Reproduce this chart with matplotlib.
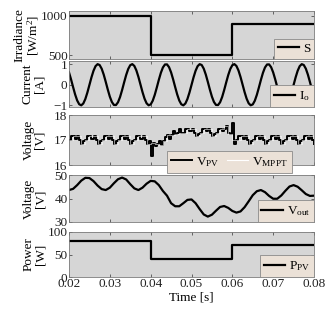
import numpy as np
import matplotlib
matplotlib.use("Agg")
import matplotlib.pyplot as plt

plt.rcParams['font.family'] = ['Liberation Serif', 'DejaVu Serif']
plt.rcParams['mathtext.fontset'] = 'custom'
plt.rcParams['mathtext.rm'] = 'Liberation Serif'
plt.rcParams['mathtext.it'] = 'Liberation Serif'

# ---------------- data ----------------
step_time = [0.02, 0.04, 0.06, 0.08]
irradiance = [1000, 500, 900, 900]
power_pv = [80, 40, 72, 72]

# 0.5 ms samples from 0.020 s to 0.080 s
io_current = [
    0.598, 0.260, -0.113, -0.471, -0.763, -0.947, -0.999, -0.910, -0.693, -0.379,
    -0.012, 0.357, 0.676, 0.900, 0.997, 0.955, 0.778, 0.492, 0.137, -0.237,
    -0.578, -0.838, -0.980, -0.985, -0.851, -0.598, -0.260, 0.113, 0.471, 0.763,
    0.947, 0.999, 0.910, 0.693, 0.379, 0.012, -0.357, -0.676, -0.900, -0.997,
    -0.955, -0.778, -0.492, -0.137, 0.237, 0.578, 0.838, 0.980, 0.985, 0.851,
    0.598, 0.260, -0.113, -0.471, -0.763, -0.947, -0.999, -0.910, -0.693, -0.379,
    -0.012, 0.357, 0.676, 0.900, 0.997, 0.955, 0.778, 0.492, 0.137, -0.237,
    -0.578, -0.838, -0.980, -0.985, -0.851, -0.598, -0.260, 0.113, 0.471, 0.763,
    0.947, 0.999, 0.910, 0.693, 0.379, 0.012, -0.357, -0.676, -0.900, -0.997,
    -0.955, -0.778, -0.492, -0.137, 0.237, 0.578, 0.838, 0.980, 0.985, 0.851,
    0.598, 0.260, -0.113, -0.471, -0.763, -0.947, -0.999, -0.910, -0.693, -0.379,
    -0.012, 0.357, 0.676, 0.900, 0.997, 0.955, 0.778, 0.492, 0.137, -0.237,
    -0.578,
]

# 0.5 ms samples (step signal)
v_pv = [
    17.00, 17.15, 17.15, 17.05, 17.15, 17.00, 16.85, 16.95,
    17.00, 17.15, 17.15, 17.05, 17.15, 17.00, 16.85, 16.95,
    17.00, 17.15, 17.15, 17.05, 17.15, 17.00, 16.85, 16.95,
    17.00, 17.15, 17.15, 17.05, 17.15, 17.00, 16.85, 16.95,
    17.00, 17.15, 17.15, 17.05, 17.15, 17.00, 16.85, 16.95,
    16.35, 16.90, 16.75, 16.85, 16.95, 16.80, 16.95, 17.10,
    17.20, 17.05, 17.20, 17.35, 17.25, 17.30, 17.45, 17.30,
    17.30, 17.45, 17.45, 17.35, 17.45, 17.30, 17.15, 17.25,
    17.30, 17.45, 17.45, 17.35, 17.45, 17.30, 17.15, 17.25,
    17.30, 17.45, 17.45, 17.35, 17.45, 17.55, 17.30, 17.25,
    17.70, 16.85,
    17.00, 17.15, 17.15, 17.05, 17.15, 17.00, 16.85, 16.95,
    17.00, 17.15, 17.15, 17.05, 17.15, 17.00, 16.85, 16.95,
    17.00, 17.15, 17.15, 17.05, 17.15, 17.00, 16.85, 16.95,
    17.00, 17.15, 17.15, 17.05, 17.15, 17.00, 16.85, 16.95,
    17.00, 17.15, 17.15, 17.05, 17.15, 17.00, 16.85,
]

# 1 ms samples (step signal)
v_mppt = [
    17.00, 17.15, 17.15, 16.85, 17.00, 17.15, 17.15, 16.85, 17.00, 17.15,
    17.15, 16.85, 17.00, 17.15, 17.15, 16.85, 17.00, 17.15, 17.15, 16.85,
    16.90, 16.85, 16.80, 16.95, 17.20, 17.20, 17.25, 17.30, 17.30, 17.45,
    17.45, 17.15, 17.30, 17.45, 17.45, 17.15, 17.30, 17.45, 17.55, 17.25,
    17.00, 17.00, 17.15, 17.15, 16.85, 17.00, 17.15, 17.15, 16.85, 17.00,
    17.15, 17.15, 16.85, 17.00, 17.15, 17.15, 16.85, 17.00, 17.15, 17.15,
    16.85,
]

# 1 ms samples
v_out = [
    43.6, 44.1, 45.7, 47.6, 48.8, 48.7, 47.4, 45.5, 44.0, 43.6,
    44.6, 46.5, 48.2, 48.9, 48.1, 46.1, 44.3, 43.6, 44.6, 46.3,
    47.5, 47.3, 45.7, 43.2, 41.2, 38.0, 36.7, 36.7, 38.0, 39.4,
    39.6, 38.0, 35.5, 33.2, 32.3, 33.1, 34.8, 36.4, 36.8, 36.0,
    34.7, 34.0, 34.5, 36.3, 38.8, 41.4, 43.1, 43.6, 42.7, 41.1,
    39.9, 39.9, 41.3, 43.3, 45.1, 45.7, 45.0, 43.5, 41.9, 41.1,
    41.2,
]

x_ticks = [0.02, 0.03, 0.04, 0.05, 0.06, 0.07, 0.08]

# ---------------- figure ----------------
fig = plt.figure(figsize=(3.3, 3.13), dpi=100)
FACE = '#d6d6d6'
LEGFACE = '#ebe1d7'
FS = 9.5

left, width = 69 / 330, (314 - 69) / 330
panels_px = [(11, 59), (61, 107), (115, 165), (175, 222), (232, 277)]
axes = []
for top, bot in panels_px:
    ax = fig.add_axes([left, (313 - bot) / 313, width, (bot - top) / 313])
    ax.set_facecolor(FACE)
    ax.set_xlim(0.02, 0.08)
    ax.set_xticks(x_ticks)
    ax.tick_params(direction='in', top=True, right=True, length=2,
                   width=0.5, labelsize=FS, pad=1, colors='#333333',
                   labelcolor='#222222')
    for s in ax.spines.values():
        s.set_color('#7a7a7a')
        s.set_linewidth(0.6)
    axes.append(ax)

t_half = np.linspace(0.02, 0.08, len(io_current))
t_vpv = np.linspace(0.02, 0.08, len(v_pv))
t_ms = np.linspace(0.02, 0.08, len(v_out))
t_mppt = np.linspace(0.02, 0.08, len(v_mppt))


def legend(ax, **kw):
    leg = ax.legend(fontsize=FS, frameon=True, fancybox=False,
                    handlelength=1.6, handletextpad=0.3, borderpad=0.3,
                    borderaxespad=0.0, labelspacing=0.2, **kw)
    fr = leg.get_frame()
    fr.set_facecolor(LEGFACE)
    fr.set_edgecolor('#8a8a8a')
    fr.set_linewidth(0.6)
    fr.set_alpha(1)
    return leg


# Panel 1: irradiance
ax = axes[0]
ax.plot(step_time, irradiance, drawstyle='steps-post', color='black', lw=1.6,
        label='S')
ax.set_ylim(450, 1060)
ax.set_yticks([500, 1000])
ax.set_ylabel('Irradiance\n[W/m$^2$]', fontsize=FS, labelpad=0, linespacing=0.95)
legend(ax, loc='lower right')

# Panel 2: current
ax = axes[1]
ax.plot(t_half, io_current, color='black', lw=1.6, label='I$_{\\mathrm{o}}$')
ax.set_ylim(-1.08, 1.15)
ax.set_yticks([-1, 0, 1])
ax.set_ylabel('Current\n[A]', fontsize=FS, labelpad=6, linespacing=0.95)
legend(ax, loc='lower right')

# Panel 3: PV voltage
ax = axes[2]
ax.plot(t_vpv, v_pv, drawstyle='steps-post', color='black', lw=1.4,
        label='V$_{\\mathrm{PV}}$')
ax.plot(t_mppt, v_mppt, drawstyle='steps-post', color='white', lw=0.4,
        label='V$_{\\mathrm{MPPT}}$')
ax.set_ylim(16, 18)
ax.set_yticks([16, 17, 18])
ax.set_ylabel('Voltage\n[V]', fontsize=FS, labelpad=6, linespacing=0.95)
leg = legend(ax, loc='lower left', bbox_to_anchor=(0.4, -0.15), ncol=2,
             columnspacing=0.6)
leg.get_lines()[1].set_linewidth(0.8)

# Panel 4: output voltage
ax = axes[3]
ax.plot(t_ms, v_out, color='black', lw=1.6, label='V$_{\\mathrm{out}}$')
ax.set_ylim(30, 50)
ax.set_yticks([30, 40, 50])
ax.set_ylabel('Voltage\n[V]', fontsize=FS, labelpad=6, linespacing=0.95)
legend(ax, loc='lower right')

# Panel 5: PV power
ax = axes[4]
ax.plot(step_time, power_pv, drawstyle='steps-post', color='black', lw=1.6,
        label='P$_{\\mathrm{PV}}$')
ax.set_ylim(0, 100)
ax.set_yticks([0, 50, 100])
ax.set_ylabel('Power\n[W]', fontsize=FS, labelpad=1, linespacing=0.95)
ax.set_xlabel('Time [s]', fontsize=FS, labelpad=1)
legend(ax, loc='lower right')

for ax in axes[:-1]:
    ax.tick_params(labelbottom=False)
axes[-1].set_xticklabels(['0.02', '0.03', '0.04', '0.05', '0.06', '0.07', '0.08'])

fig.align_ylabels(axes)
fig.savefig('out.png', dpi=100)
